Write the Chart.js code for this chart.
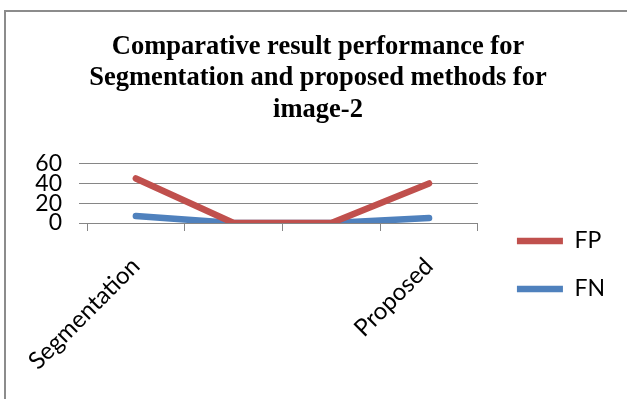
<!DOCTYPE html>
<html>
<head>
<meta charset="utf-8">
<script src="https://cdn.jsdelivr.net/npm/chart.js@4"></script>
<style>
  html, body { margin: 0; padding: 0; background: #fff; }
  body { width: 627px; height: 399px; position: relative; overflow: hidden; }
  #frame { position: absolute; left: 4px; top: 10px; width: 700px; height: 500px;
           border-left: 2px solid #8c8c8c; border-top: 2px solid #8c8c8c; }
  #wrap { position: absolute; left: 0; top: 0; width: 627px; height: 399px; }
</style>
</head>
<body>
<div id="frame"></div>
<div id="wrap"><canvas id="c" width="627" height="399"></canvas></div>
<script>
// Categories and series values
const categories = ['Segmentation', '', '', 'Proposed'];
const fpValues = [45, 0, 0, 40];
const fnValues = [7, 0, 0, 5];
const yTicks = [0, 20, 40, 60];

const labelFont = { family: 'Lato, "Open Sans", sans-serif', size: 23 };
const categoryFont = { family: 'Lato, "Open Sans", sans-serif', size: 24 };
const gridColor = '#868686';

const chart = new Chart(document.getElementById('c'), {
  type: 'line',
  data: {
    labels: categories,
    datasets: [
      {
        label: 'FP', data: fpValues, borderColor: '#C0504D', backgroundColor: '#C0504D',
        borderWidth: 6.5, borderCapStyle: 'round', borderJoinStyle: 'round',
        pointRadius: 0, tension: 0, fill: false
      },
      {
        label: 'FN', data: fnValues, borderColor: '#4F81BD', backgroundColor: '#4F81BD',
        borderWidth: 6.5, borderCapStyle: 'round', borderJoinStyle: 'round',
        pointRadius: 0, tension: 0, fill: false
      }
    ]
  },
  options: {
    responsive: false,
    animation: false,
    layout: { padding: { left: 21, top: 0, right: 12, bottom: 0 } },
    plugins: {
      tooltip: { enabled: false },
      title: {
        display: true,
        text: ['Comparative result performance for', 'Segmentation and proposed methods for', 'image-2'],
        color: '#000',
        font: { family: '"Liberation Serif", "Times New Roman", serif', size: 26.5, weight: 'bold', lineHeight: 1.19 },
        padding: { top: 31, bottom: 38 }
      },
      legend: {
        position: 'right',
        align: 'start',
        // empty heading block pushes the entries down beside the axis labels
        title: { display: true, text: '', font: { size: 10, lineHeight: 1 }, padding: { top: 194.5, bottom: 0 } },
        labels: {
          usePointStyle: true,
          pointStyle: 'line',
          pointStyleWidth: 46,
          color: '#000',
          font: labelFont,
          padding: 25
        }
      }
    },
    scales: {
      x: {
        offset: true,
        grid: { display: true, drawOnChartArea: false, drawTicks: true, tickLength: 8, color: gridColor, offset: true },
        border: { display: false },
        ticks: { color: '#000', font: categoryFont, minRotation: 45, maxRotation: 45, autoSkip: false, padding: 21 },
        afterFit: (scale) => {
          scale.height = 176;
          // rotated labels may hang past the plot edges; keep the plot width fixed
          scale.paddingLeft = 0;
          scale.paddingRight = 0;
        }
      },
      y: {
        min: 0, max: 60,
        afterBuildTicks: (scale) => { scale.ticks = yTicks.map(v => ({ value: v })); },
        grid: { color: gridColor, lineWidth: 1, tickLength: 8, drawTicks: true },
        border: { display: false },
        ticks: { color: '#000', font: labelFont, padding: 17, autoSkip: false },
        afterFit: (scale) => { scale.width = 66; }
      },
      gap: {
        position: 'right',
        display: false,
        afterFit: (scale) => { scale.width = 14; }
      }
    }
  }
});
</script>
</body>
</html>
